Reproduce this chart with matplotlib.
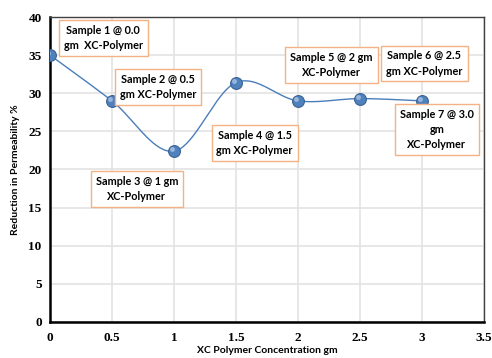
import numpy as np
import matplotlib
matplotlib.use("Agg")
import matplotlib.pyplot as plt

# Data
conc = [0.0, 0.5, 1.0, 1.5, 2.0, 2.5, 3.0]
reduction = [35.0, 29.0, 22.4, 31.4, 29.0, 29.3, 29.0]
labels = ['Sample 1 @ 0.0\ngm  XC-Polymer',
          'Sample 2 @ 0.5\ngm XC-Polymer',
          'Sample 3 @ 1 gm\nXC-Polymer',
          'Sample 4 @ 1.5\ngm XC-Polymer',
          'Sample 5 @ 2 gm\nXC-Polymer',
          'Sample 6 @ 2.5\ngm XC-Polymer',
          'Sample 7 @ 3.0\ngm\nXC-Polymer']
label_pos = [(0.43, 37.2), (0.87, 30.8), (0.70, 17.4), (1.65, 23.5),
             (2.27, 33.7), (3.02, 33.9), (3.12, 25.2)]


def smooth(xs, ys, n=40):
    # Excel-like smoothed line: Bezier segments with Catmull-Rom control points
    p = np.column_stack([xs, ys]).astype(float)
    pts = []
    for i in range(len(p) - 1):
        p0 = p[i - 1] if i > 0 else p[i]
        p3 = p[i + 2] if i + 2 < len(p) else p[i + 1]
        c1 = p[i] + (p[i + 1] - p0) / 6
        c2 = p[i + 1] - (p3 - p[i]) / 6
        t = np.linspace(0, 1, n)[:, None]
        seg = ((1 - t) ** 3 * p[i] + 3 * (1 - t) ** 2 * t * c1
               + 3 * (1 - t) * t ** 2 * c2 + t ** 3 * p[i + 1])
        pts.append(seg if i == 0 else seg[1:])
    pts = np.vstack(pts)
    return pts[:, 0], pts[:, 1]


fig = plt.figure(figsize=(4.92, 3.58), dpi=100)
ax = fig.add_axes([0.1016, 0.1006, 0.8821, 0.8519])

sx, sy = smooth(conc, reduction)
ax.plot(sx, sy, color='#4a7ebb', lw=1.0, zorder=3)
ax.plot(conc, reduction, 'o', ms=8.5, mfc='#4f81bd', mec='#3a6394', mew=0.8, zorder=4)
ax.plot(np.array(conc) - 0.012, np.array(reduction) + 0.25, 'o', ms=3.5,
        mfc='#a9c4e6', mec='none', alpha=0.8, zorder=5)

ax.set_xlim(0, 3.5)
ax.set_ylim(0, 40)
ax.set_xticks([0, 0.5, 1, 1.5, 2, 2.5, 3, 3.5])
ax.set_xticklabels(['0', '0.5', '1', '1.5', '2', '2.5', '3', '3.5'])
ax.set_yticks(range(0, 41, 5))
ax.grid(True, color='#e3e3e3', lw=1.2)
ax.set_axisbelow(True)

for lab in ax.get_xticklabels() + ax.get_yticklabels():
    lab.set_family('Liberation Serif')
    lab.set_fontweight('bold')
    lab.set_fontsize(9.5)
ax.tick_params(length=0, pad=7)
ax.tick_params(axis='y', pad=6)

for side in ['left', 'bottom']:
    ax.spines[side].set_linewidth(1.8)
    ax.spines[side].set_color('black')
for side in ['top', 'right']:
    ax.spines[side].set_linewidth(1.0)
    ax.spines[side].set_color('#404040')

ax.set_xlabel('XC Polymer Concentration gm', family='Lato', fontweight='bold',
              fontsize=7.5, labelpad=2)
ax.set_ylabel('Reduction in Permeability %', family='Lato', fontweight='bold',
              fontsize=7.5, labelpad=6)

for txt, (tx, ty) in zip(labels, label_pos):
    ax.text(tx, ty, txt, ha='center', va='center', multialignment='center',
            family='Lato', fontweight='bold', fontsize=7.8, linespacing=1.45,
            zorder=6,
            bbox=dict(boxstyle='square,pad=0.45', fc='white', ec='#f4b183', lw=1.0))

plt.savefig('out.png', dpi=100)
